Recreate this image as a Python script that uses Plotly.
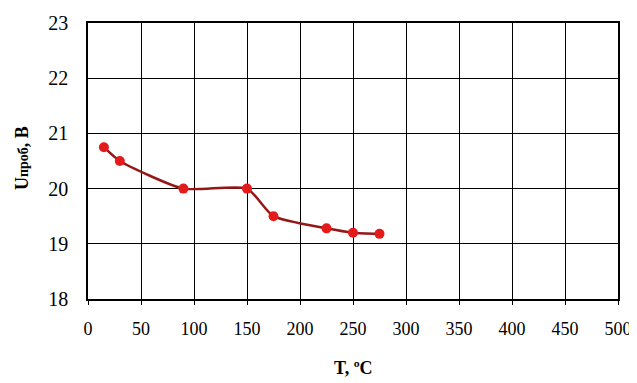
import plotly.graph_objects as go

temperature = [15, 30, 90, 150, 175, 225, 250, 275]
voltage = [20.75, 20.5, 20.0, 20.0, 19.5, 19.28, 19.2, 19.18]
x_ticks = [0, 50, 100, 150, 200, 250, 300, 350, 400, 450, 500]
y_ticks = [18, 19, 20, 21, 22, 23]

serif = "Times New Roman"

fig = go.Figure()
fig.add_trace(go.Scatter(
    x=temperature, y=voltage, mode="lines+markers",
    line=dict(color="#951818", width=2.5, shape="spline", smoothing=0.6),
    marker=dict(color="#e31b1b", size=10, line=dict(width=0)),
    showlegend=False,
))

# page body has an 8px margin, so the figure is shifted by (8, 8)
fig.update_layout(
    width=629, height=375,
    margin=dict(l=80, r=19, t=15, b=84, autoexpand=False),
    paper_bgcolor="white", plot_bgcolor="white",
    font=dict(family=serif, size=18, color="black"),
    xaxis=dict(range=[0, 500], tickvals=x_ticks, showgrid=True, gridcolor="black",
               gridwidth=1.3, showline=True, linecolor="black", linewidth=1.5,
               mirror=True, ticks="outside", ticklen=4, tickcolor="black",
               zeroline=False, ticklabelstandoff=9, automargin=False,
               tickfont=dict(family=serif, size=18, color="black")),
    yaxis=dict(range=[18, 23], tickvals=y_ticks, showgrid=True, gridcolor="black",
               gridwidth=1.3, showline=True, linecolor="black", linewidth=1.5,
               mirror=True, ticks="", zeroline=False, ticklabelstandoff=14,
               automargin=False,
               tickfont=dict(family=serif, size=20, color="black")),
)
fig.add_annotation(text="<b>T, ºC</b>", xref="paper", yref="paper",
                   x=0.5, y=-(356 - 299) / 276,
                   xanchor="center", yanchor="top", showarrow=False,
                   font=dict(size=18, family=serif, color="black"))
fig.add_annotation(text="<b>U<span style='font-size:14px'>проб</span>, В</b>",
                   xref="paper", yref="paper", x=-(88 - 22) / 530, y=(299 - 158) / 276,
                   xanchor="center", yanchor="middle", textangle=-90, showarrow=False,
                   font=dict(size=18, family=serif, color="black"))

fig.write_html("out.html")
